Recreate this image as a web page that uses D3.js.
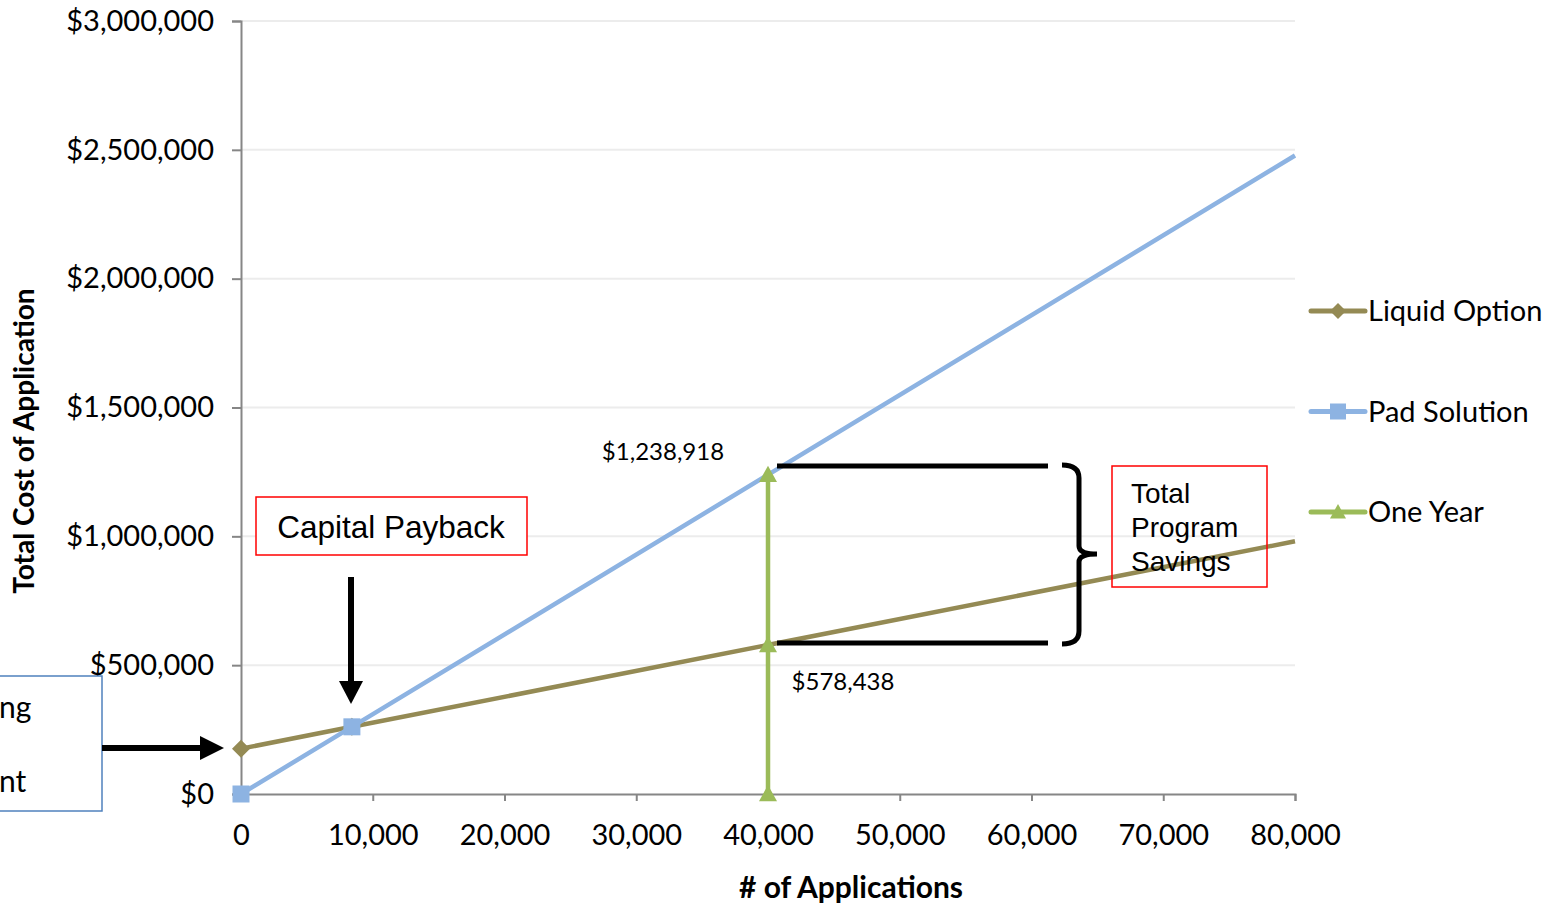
<!DOCTYPE html>
<html><head><meta charset="utf-8">
<script src="https://cdn.jsdelivr.net/npm/d3@7"></script>
<style>body{margin:0;background:#fff}svg{display:block}text{fill:#000}</style>
</head><body><svg id="c" width="1558" height="907"></svg>
<script>
const xTicks = [0,10000,20000,30000,40000,50000,60000,70000,80000];
const yTicks = [0,500000,1000000,1500000,2000000,2500000,3000000];
const liquidX = [0, 8417, 80000];
const liquidY = [176000, 260700, 980876];
const padX = [0, 8417, 80000];
const padY = [0, 260700, 2477836];
const oneYearX = [40000, 40000, 40000];
const oneYearY = [0, 578438, 1238918];
const seriesNames = ["Liquid Option","Pad Solution","One Year"];
const dataLabels = [{x:40000,y:1238918,t:"$1,238,918"},{x:40000,y:578438,t:"$578,438"}];

const svg = d3.select("#c");
const font = "Lato, 'Open Sans', sans-serif";
const x = d3.scaleLinear().domain([0,80000]).range([241,1295]);
const y = d3.scaleLinear().domain([0,3000000]).range([794,21]);

// gridlines
svg.append("g").selectAll("line").data(yTicks.slice(1)).join("line")
  .attr("x1",241).attr("x2",1295).attr("y1",d=>y(d)).attr("y2",d=>y(d))
  .attr("stroke","#ececec").attr("stroke-width",2);

// axes
const yAxis = svg.append("g").attr("transform","translate(241,0)")
  .call(d3.axisLeft(y).tickValues(yTicks).tickSize(9).tickPadding(18).tickFormat(d=>"$"+d3.format(",")(d)));
const xAxis = svg.append("g").attr("transform","translate(0,794)")
  .call(d3.axisBottom(x).tickValues(xTicks).tickSize(7).tickPadding(23).tickFormat(d3.format(",")));
[yAxis,xAxis].forEach(a=>{
  a.select(".domain").attr("stroke","#868686").attr("stroke-width",2);
  a.selectAll(".tick line").attr("stroke","#868686").attr("stroke-width",2);
  a.selectAll("text").attr("font-family",font).attr("font-size",29).attr("fill","#000");
});
xAxis.selectAll(".tick text").attr("dy","0.71em");

// axis titles
svg.append("text").attr("x",851).attr("y",898).attr("text-anchor","middle")
  .attr("font-family",font).attr("font-weight","bold").attr("font-size",30).text("# of Applications");
svg.append("text").attr("transform","translate(34,441) rotate(-90)").attr("text-anchor","middle")
  .attr("font-family",font).attr("font-weight","bold").attr("font-size",28).text("Total Cost of Application");

const colors = ["#948a54","#8db3e2","#9bbb59"];
const line = d3.line().x(d=>x(d[0])).y(d=>y(d[1]));
const liquid = liquidX.map((v,i)=>[v,liquidY[i]]);
const pad = padX.map((v,i)=>[v,padY[i]]);
const oneYear = oneYearX.map((v,i)=>[v,oneYearY[i]]);

function marker(g, shape, cx, cy, color, s){
  if(shape==="diamond") g.append("path").attr("d",`M${cx},${cy-s}L${cx+s},${cy}L${cx},${cy+s}L${cx-s},${cy}Z`).attr("fill",color);
  else if(shape==="square") g.append("rect").attr("x",cx-s).attr("y",cy-s).attr("width",2*s).attr("height",2*s).attr("fill",color);
  else g.append("path").attr("d",`M${cx},${cy-s}L${cx+s},${cy+s*0.8}L${cx-s},${cy+s*0.8}Z`).attr("fill",color);
}
const plot = svg.append("g");
plot.append("path").attr("d",line(liquid)).attr("fill","none").attr("stroke",colors[0]).attr("stroke-width",4.5);
liquid.slice(0,2).forEach(d=>marker(plot,"diamond",x(d[0]),y(d[1]),colors[0],9));
plot.append("path").attr("d",line(pad)).attr("fill","none").attr("stroke",colors[1]).attr("stroke-width",4.5);
pad.slice(0,2).forEach(d=>marker(plot,"square",x(d[0]),y(d[1]),colors[1],8.5));
plot.append("path").attr("d",line(oneYear)).attr("fill","none").attr("stroke",colors[2]).attr("stroke-width",4.5);
oneYear.forEach(d=>marker(plot,"triangle",x(d[0]),y(d[1]),colors[2],9));

// data labels
svg.append("text").attr("x",x(dataLabels[0].x)-105).attr("y",y(dataLabels[0].y)-15).attr("text-anchor","middle")
  .attr("font-family",font).attr("font-size",24).text(dataLabels[0].t);
svg.append("text").attr("x",x(dataLabels[1].x)+75).attr("y",y(dataLabels[1].y)+45).attr("text-anchor","middle")
  .attr("font-family",font).attr("font-size",24).text(dataLabels[1].t);

// legend
const leg = svg.append("g");
seriesNames.forEach((n,i)=>{
  const ly = 311 + i*100.5;
  leg.append("line").attr("x1",1311).attr("x2",1365).attr("y1",ly).attr("y2",ly).attr("stroke",colors[i]).attr("stroke-width",5).attr("stroke-linecap","round");
  marker(leg, ["diamond","square","triangle"][i], 1338, ly, colors[i], 8);
  leg.append("text").attr("x",1368).attr("y",ly).attr("dy","0.35em").attr("font-family",font).attr("font-size",29).text(n);
});

// annotations
const ann = svg.append("g");
ann.append("rect").attr("x",256).attr("y",497).attr("width",271).attr("height",58).attr("fill","#fff").attr("stroke","#ff0000").attr("stroke-width",1.5);
ann.append("text").attr("x",391).attr("y",538).attr("text-anchor","middle").attr("font-family","'Liberation Sans', Arial, sans-serif").attr("font-size",31.5).text("Capital Payback");
// down arrow
ann.append("line").attr("x1",351).attr("x2",351).attr("y1",577).attr("y2",683).attr("stroke","#000").attr("stroke-width",6);
ann.append("path").attr("d","M339,681L363,681L351,704Z").attr("fill","#000");
// left box
ann.append("rect").attr("x",-10).attr("y",676).attr("width",112).attr("height",135).attr("fill","#fff").attr("stroke","#4f81bd").attr("stroke-width",1.5);
ann.append("text").attr("x",-1).attr("y",718).attr("font-family",font).attr("font-size",30).text("ng");
ann.append("text").attr("x",-1).attr("y",792).attr("font-family",font).attr("font-size",30).text("nt");
// right arrow
ann.append("line").attr("x1",102).attr("x2",202).attr("y1",748).attr("y2",748).attr("stroke","#000").attr("stroke-width",6);
ann.append("path").attr("d","M200,736L224,748L200,760Z").attr("fill","#000");
// bracket lines
ann.append("line").attr("x1",777).attr("x2",1048).attr("y1",466).attr("y2",466).attr("stroke","#000").attr("stroke-width",5);
ann.append("line").attr("x1",777).attr("x2",1048).attr("y1",643).attr("y2",643).attr("stroke","#000").attr("stroke-width",5);
ann.append("path").attr("d","M1062,465Q1079,465 1079,478L1079,546Q1079,554 1097,554Q1079,554 1079,562L1079,631Q1079,644 1062,644")
  .attr("fill","none").attr("stroke","#000").attr("stroke-width",5);
// savings box
ann.append("rect").attr("x",1112).attr("y",466).attr("width",155).attr("height",121).attr("fill","none").attr("stroke","#ff0000").attr("stroke-width",1.5);
["Total","Program","Savings"].forEach((t,i)=>{
  ann.append("text").attr("x",1131).attr("y",503+i*34).attr("font-family","'Liberation Sans', Arial, sans-serif").attr("font-size",28).text(t);
});
</script></body></html>
